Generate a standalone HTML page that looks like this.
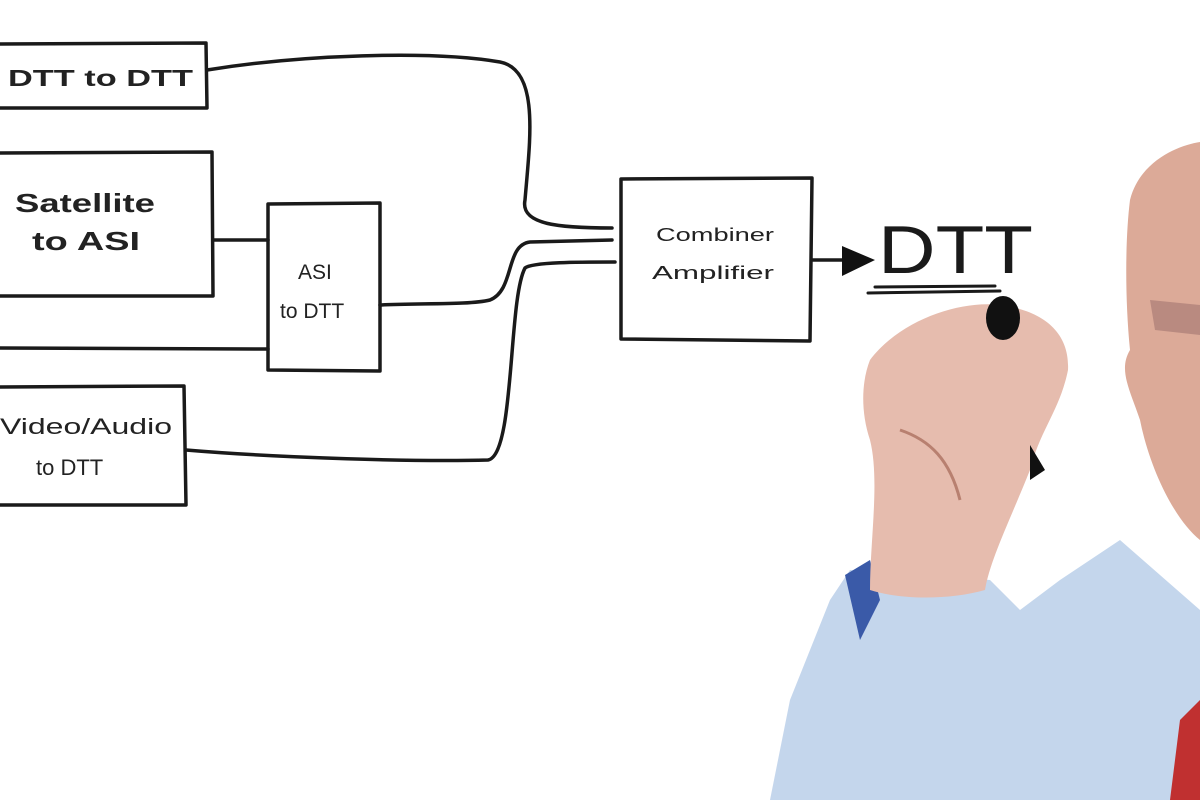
<!DOCTYPE html>
<html><head><style>
html,body{margin:0;padding:0;background:#fff;width:1200px;height:800px;overflow:hidden}
svg{display:block}
text{font-family:"Liberation Sans",sans-serif;fill:#222}
</style></head><body>
<svg width="1200" height="800" viewBox="0 0 1200 800">
<rect width="1200" height="800" fill="#fff"/>
<g fill="none" stroke="#1a1a1a" stroke-width="3.5" stroke-linecap="round" stroke-linejoin="round">
<path d="M-5 44 L206 43 L207 108 L-5 108"/>
<path d="M-5 153 L212 152 L213 296 L-5 296"/>
<path d="M268 204 L380 203 L380 371 L268 370 Z"/>
<path d="M-5 387 L184 386 L186 505 L-5 505"/>
<path d="M621 179 L812 178 L810 341 L621 339 Z"/>
<path d="M213 240 L268 240"/>
<path d="M-5 348 L268 349"/>
<path d="M207 70 C300 55 430 50 500 62 C540 70 530 140 525 200 C520 225 560 228 612 228"/>
<path d="M380 305 C420 303 470 305 490 300 C515 290 505 245 530 242 L612 240"/>
<path d="M186 450 C280 458 420 462 488 460 C515 455 508 300 525 268 C532 262 580 262 615 262"/>
<path d="M812 260 L850 260"/>
<path d="M868 293 L1000 291 M875 287 L995 286" stroke-width="3"/>
</g>
<polygon points="842,246 875,260 842,276" fill="#111"/>
<text x="878" y="273" font-size="68" font-weight="normal" textLength="155" lengthAdjust="spacingAndGlyphs" style="fill:#1a1a1a">DTT</text>
<text x="8" y="86" font-size="23" font-weight="bold" textLength="185" lengthAdjust="spacingAndGlyphs">DTT to DTT</text>
<text x="15" y="212" font-size="26" font-weight="bold" textLength="140" lengthAdjust="spacingAndGlyphs">Satellite</text>
<text x="32" y="250" font-size="26" font-weight="bold" textLength="108" lengthAdjust="spacingAndGlyphs">to ASI</text>
<text x="298" y="279" font-size="21">ASI</text>
<text x="280" y="318" font-size="21">to DTT</text>
<text x="0" y="434" font-size="22" textLength="172" lengthAdjust="spacingAndGlyphs">Video/Audio</text>
<text x="36" y="475" font-size="22">to DTT</text>
<text x="656" y="241" font-size="18" textLength="118" lengthAdjust="spacingAndGlyphs">Combiner</text>
<text x="652" y="279" font-size="18" textLength="122" lengthAdjust="spacingAndGlyphs">Amplifier</text>
<path d="M1130 200 C1140 160 1180 145 1200 142 L1200 540 C1175 520 1150 470 1140 420 C1130 390 1118 370 1130 350 C1125 300 1125 240 1130 200 Z" fill="#dcaa98"/>
<path d="M1150 300 L1200 305 L1200 335 L1155 330 Z" fill="#b98a80"/>
<path d="M770 800 L790 700 L830 600 L850 570 L990 580 L1020 610 L1060 580 L1120 540 L1200 610 L1200 800 Z" fill="#c4d6ec"/>
<path d="M845 575 L870 560 L880 600 L860 640 Z" fill="#3a5aa8"/>
<path d="M1180 720 L1200 700 L1200 800 L1170 800 Z" fill="#c03030"/>
<path d="M870 360 C900 320 960 300 1000 305 C1040 310 1070 330 1068 370 C1060 410 1040 430 1030 470 C1010 520 990 560 985 590 C950 600 900 600 870 590 C870 540 880 480 870 440 C860 410 862 380 870 360 Z" fill="#e6bcae"/>
<path d="M900 430 C930 440 950 460 960 500" stroke="#b88070" stroke-width="3" fill="none"/>
<ellipse cx="1003" cy="318" rx="17" ry="22" fill="#111"/>
<path d="M1030 445 L1045 470 L1030 480 Z" fill="#111"/>
</svg>
</body></html>
